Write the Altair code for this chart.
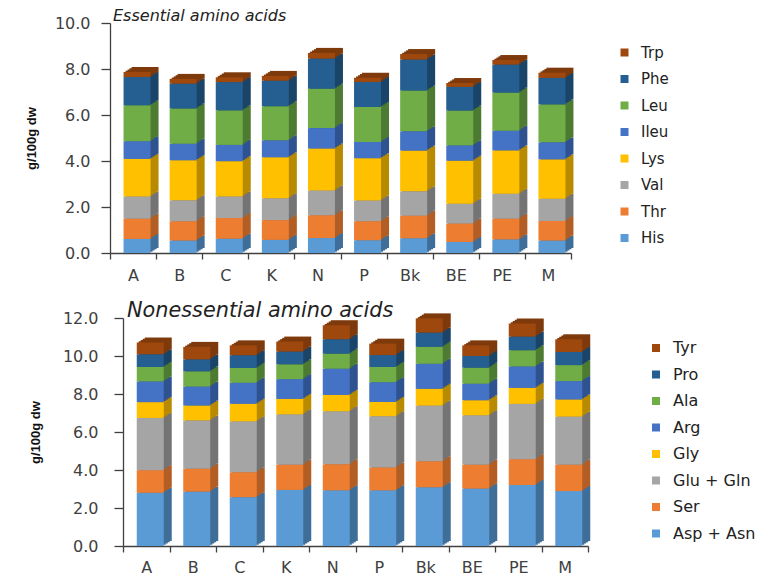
import altair as alt
import pandas as pd

samples = ["A", "B", "C", "K", "N", "P", "Bk", "BE", "PE", "M"]

# Essential amino acids, g/100 g dry weight (stacked bottom to top)
ess_acids = ["His", "Thr", "Val", "Lys", "Ileu", "Leu", "Phe", "Trp"]
His = [0.61, 0.54, 0.62, 0.57, 0.65, 0.55, 0.64, 0.48, 0.59, 0.54]
Thr = [0.88, 0.84, 0.90, 0.86, 0.99, 0.83, 0.98, 0.80, 0.90, 0.85]
Val = [0.97, 0.91, 0.94, 0.95, 1.08, 0.90, 1.06, 0.86, 1.09, 0.97]
Lys = [1.63, 1.74, 1.53, 1.78, 1.82, 1.84, 1.77, 1.87, 1.88, 1.71]
Ileu = [0.77, 0.72, 0.71, 0.74, 0.89, 0.71, 0.84, 0.67, 0.86, 0.74]
Leu = [1.56, 1.53, 1.50, 1.48, 1.71, 1.52, 1.77, 1.51, 1.65, 1.65]
Phe = [1.23, 1.08, 1.23, 1.11, 1.31, 1.08, 1.35, 1.03, 1.22, 1.15]
Trp = [0.22, 0.21, 0.21, 0.21, 0.25, 0.19, 0.24, 0.17, 0.20, 0.23]

# Nonessential amino acids, g/100 g dry weight (stacked bottom to top)
non_acids = ["Asp + Asn", "Ser", "Glu + Gln", "Gly", "Arg", "Ala", "Pro", "Tyr"]
AspAsn = [2.80, 2.86, 2.57, 2.95, 2.93, 2.93, 3.09, 3.02, 3.21, 2.89]
Ser = [1.19, 1.20, 1.31, 1.32, 1.37, 1.20, 1.37, 1.25, 1.36, 1.38]
GluGln = [2.75, 2.55, 2.68, 2.66, 2.79, 2.70, 2.93, 2.61, 2.91, 2.54]
Gly = [0.83, 0.78, 0.92, 0.81, 0.86, 0.75, 0.88, 0.79, 0.84, 0.90]
Arg = [1.09, 1.00, 1.11, 1.04, 1.38, 1.04, 1.32, 0.87, 1.13, 0.97]
Ala = [0.76, 0.80, 0.78, 0.78, 0.79, 0.80, 0.89, 0.84, 0.85, 0.84]
Pro = [0.67, 0.63, 0.67, 0.67, 0.76, 0.63, 0.75, 0.62, 0.72, 0.69]
Tyr = [0.62, 0.66, 0.52, 0.53, 0.74, 0.60, 0.75, 0.56, 0.69, 0.67]

ess_values = [His, Thr, Val, Lys, Ileu, Leu, Phe, Trp]
non_values = [AspAsn, Ser, GluGln, Gly, Arg, Ala, Pro, Tyr]

# Face colours and darker side-face colours, one per stack level
front_colors = ["#5B9BD5", "#ED7D31", "#A5A5A5", "#FFC000",
                "#4472C4", "#70AD47", "#255E91", "#9E480E"]
side_colors = ["#3F6E99", "#B25E25", "#747474", "#B88A00",
               "#2F5290", "#4E7B32", "#1A4468", "#7E3A0C"]

FONT = "DejaVu Sans"
INK = "#404040"


def long_table(acids, values):
    rows = []
    for level, (acid, vals) in enumerate(zip(acids, values)):
        for s, v in zip(samples, vals):
            rows.append({"sample": s, "acid": acid, "level": level, "value": v})
    return pd.DataFrame(rows)


def panel(acids, values, ymax, title, width, height, shift, title_size,
          title_dx, title_offset, y_label_pad, y_title_x, legend_x,
          legend_font, x_label_pad):
    df = long_table(acids, values)
    base = alt.Chart(df)
    x_enc = alt.X(
        "sample:N", sort=samples, title=None,
        scale=alt.Scale(paddingInner=0, paddingOuter=0, range=[shift, width]),
        axis=alt.Axis(labelAngle=0, labelFont=FONT, labelFontSize=16,
                      labelColor=INK, tickBand="extent", tickSize=6,
                      labelPadding=x_label_pad, domainColor=INK,
                      tickColor=INK, domainWidth=1.3, tickWidth=1.3),
    )
    y_enc = alt.Y(
        "value:Q", stack="zero",
        scale=alt.Scale(domain=[0, ymax], nice=False, zero=True),
        axis=alt.Axis(title="g/100g dw", values=list(range(0, ymax + 1, 2)),
                      format=".1f", grid=False, labelFont=FONT,
                      labelFontSize=16, labelColor=INK, tickSize=9,
                      labelPadding=y_label_pad, domainColor=INK,
                      tickColor=INK, domainWidth=1.3, tickWidth=1.3,
                      offset=-shift, titleFont="Liberation Sans",
                      titleFontSize=13, titleFontWeight="bold",
                      titleColor="#111", titleAngle=270,
                      titleBaseline="bottom", titleAlign="center",
                      titleX=y_title_x),
    )
    order = alt.Order("level:Q", sort="ascending")
    rev_acids = acids[::-1]

    layers = []
    # depth faces: darker copies of each stack stepped up and to the right
    for k in [4, 3, 2, 1]:
        layers.append(
            base.mark_bar(width=27, xOffset=4 + 2 * k,
                          yOffset=-1.25 * k, y2Offset=-1.25 * k)
            .encode(
                x=x_enc, y=y_enc, order=order,
                color=alt.Color("acid:N",
                                scale=alt.Scale(domain=rev_acids,
                                                range=side_colors[::-1]),
                                legend=None),
            )
        )
    layers.append(
        base.mark_bar(width=27, xOffset=4).encode(
            x=x_enc, y=y_enc, order=order,
            color=alt.Color(
                "acid:N",
                scale=alt.Scale(domain=rev_acids, range=front_colors[::-1]),
                legend=alt.Legend(
                    title=None, orient="none", legendX=legend_x, legendY=22,
                    symbolType="square", symbolSize=64, symbolStrokeWidth=0,
                    labelFont=FONT, labelFontSize=legend_font,
                    labelColor="#222", rowPadding=10.5, labelOffset=9,
                    padding=0,
                ),
            ),
        )
    )
    return (
        alt.layer(*layers)
        .resolve_scale(color="independent")
        .properties(
            width=width, height=height,
            title=alt.TitleParams(
                title, anchor="start", frame="group", font=FONT,
                fontSize=title_size, fontStyle="italic", fontWeight="normal",
                color="#222", baseline="alphabetic", offset=title_offset,
                dx=title_dx,
            ),
        )
    )


top = panel(ess_acids, ess_values, 10, "Essential amino acids", 461, 230, 0,
            16, 3, -22, 11, -72, 507, 15, 8)
bottom = panel(non_acids, non_values, 12, "Nonessential amino acids", 478, 228,
               13, 20.8, 17, -28, 16, -81, 538, 16, 7)

chart = (
    alt.concat(top, bottom, columns=1, spacing=17)
    .properties(padding={"left": 25, "top": 8, "right": 5, "bottom": 2})
    .configure_view(stroke=None)
)

chart.save("out.html", embed_options={"renderer": "svg", "actions": False})
